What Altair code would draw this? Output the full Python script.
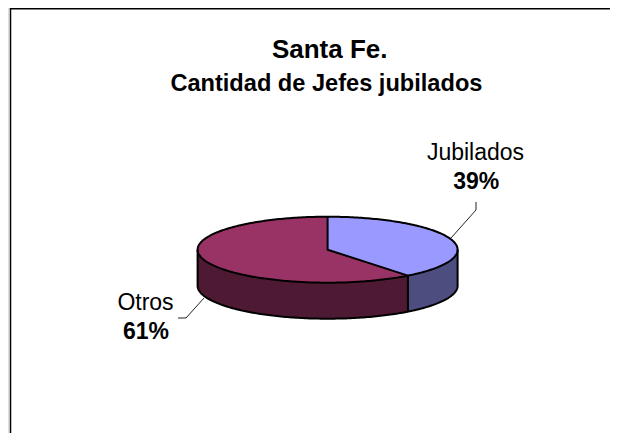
import math
import numpy as np
import pandas as pd
import altair as alt

categories = ["Jubilados", "Otros"]
shares = [39.4, 60.6]
percent_labels = ["39%", "61%"]
top_colors = ["#9999FF", "#993366"]
side_colors = ["#4D4D80", "#4D1933"]

# layout of the drawing, in chart pixels
W, H = 602, 425
CX, CY, RX, RY, DEPTH = 319.6, 241.7, 130, 33, 36


def ell(theta):
    return CX + RX * math.sin(theta), CY - RY * math.cos(theta)


def upper(x):
    return CY - RY * math.sqrt(max(0, 1 - ((x - CX) / RX) ** 2))


def lower(x):
    return CY + RY * math.sqrt(max(0, 1 - ((x - CX) / RX) ** 2))


end = 2 * math.pi * shares[0] / sum(shares)
ex, ey = ell(end)


def center_line(x):
    return CY + (ey - CY) * (x - CX) / (ex - CX)


xs_all = sorted(set([CX - RX * math.cos(t) for t in np.linspace(0, math.pi, 181)] + [ex, CX]))

rows = []
for x in xs_all:
    if CX <= x:
        y2 = lower(x) if x >= ex else center_line(x)
        rows.append(dict(part="jub_top", order=3, x=x, y=upper(x), y2=y2, color=top_colors[0]))
    if x <= ex:
        y1 = upper(x) if x <= CX else center_line(x)
        rows.append(dict(part="otros_top", order=3, x=x, y=y1, y2=lower(x), color=top_colors[1]))
        rows.append(dict(part="otros_side", order=1, x=x, y=lower(x), y2=lower(x) + DEPTH, color=side_colors[1]))
    if x >= ex:
        rows.append(dict(part="jub_side", order=1, x=x, y=lower(x), y2=lower(x) + DEPTH, color=side_colors[0]))
areas = pd.DataFrame(rows)

lines = []


def path(name, pts):
    for i, (x, y) in enumerate(pts):
        lines.append(dict(part=name, seq=i, x=x, y=y))


thetas = np.linspace(0, 2 * math.pi, 361)
path("rim", [ell(t) for t in thetas])
path("spoke", [ell(0), (CX, CY), (ex, ey)])
path("divider", [(ex, ey), (ex, ey + DEPTH)])
front = [ell(t) for t in np.linspace(math.pi / 2, 3 * math.pi / 2, 181)]
path("front", [(CX + RX, CY)] + [(x, y + DEPTH) for x, y in front] + [(CX - RX, CY)])
outline = pd.DataFrame(lines)

leaders = pd.DataFrame([
    dict(part="a", seq=0, x=468, y=194), dict(part="a", seq=1, x=468, y=202), dict(part="a", seq=2, x=443, y=230),
    dict(part="b", seq=0, x=170, y=310), dict(part="b", seq=1, x=178, y=310), dict(part="b", seq=2, x=196, y=290),
])

labels = pd.DataFrame([
    dict(t="Santa Fe.", x=321.7, y=50.3, s=26, w="bold"),
    dict(t="Cantidad de Jefes jubilados", x=318.4, y=83, s=23.6, w="bold"),
    dict(t=categories[0], x=467.5, y=152, s=23, w="normal"),
    dict(t=percent_labels[0], x=468.3, y=181, s=23, w="bold"),
    dict(t=categories[1], x=137.5, y=302, s=23, w="normal"),
    dict(t=percent_labels[1], x=138, y=331, s=23, w="bold"),
])

xs = alt.Scale(domain=[0, W], range=[0, W])
ys = alt.Scale(domain=[0, H], range=[0, H])
X = alt.X("x:Q", scale=xs, axis=None)
Y = alt.Y("y:Q", scale=ys, axis=None)

side = alt.Chart(areas[areas.order == 1]).mark_area(orient="vertical").encode(
    x=X, y=Y, y2="y2:Q", detail="part:N", color=alt.Color("color:N", scale=None))
top = alt.Chart(areas[areas.order == 3]).mark_area(orient="vertical").encode(
    x=X, y=Y, y2="y2:Q", detail="part:N", color=alt.Color("color:N", scale=None))
lin = alt.Chart(outline).mark_line(color="black", strokeWidth=2).encode(
    x=X, y=Y, detail="part:N", order="seq:Q")
lead = alt.Chart(leaders).mark_line(color="#222222", strokeWidth=1).encode(
    x=X, y=Y, detail="part:N", order="seq:Q")
frame_top = alt.Chart(pd.DataFrame({"a": [0]})).mark_rule(color="black", strokeWidth=1.5).encode(
    x=alt.value(2), x2=alt.value(W), y=alt.value(0.75))
frame_left = alt.Chart(pd.DataFrame({"a": [0]})).mark_rule(color="black", strokeWidth=1.5).encode(
    x=alt.value(2.5), y=alt.value(0), y2=alt.value(H))
text_layers = [
    alt.Chart(labels[labels.t == r.t]).mark_text(
        font="Liberation Sans", fontSize=r.s, fontWeight=r.w, color="black", align="center", baseline="alphabetic"
    ).encode(x=X, y=Y, text="t:N")
    for r in labels.itertuples()
]

chart = alt.layer(side, top, lin, lead, frame_top, frame_left, *text_layers).properties(
    width=W, height=H, padding=0, autosize=alt.AutoSizeParams(type="none")
).configure_view(stroke=None).configure(background="white")

chart.save("out.html", embed_options={"renderer": "svg", "actions": False})
